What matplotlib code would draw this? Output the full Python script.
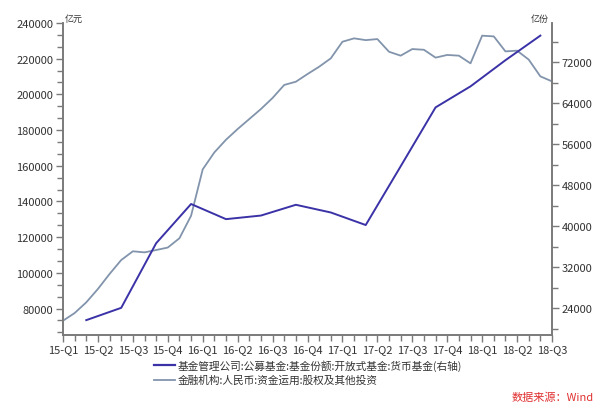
import matplotlib
matplotlib.use("Agg")
import matplotlib.pyplot as plt
from matplotlib.ticker import MultipleLocator, FixedLocator
import numpy as np

plt.rcParams['font.family'] = ['Noto Sans CJK SC', 'DejaVu Sans']

# Month index 0 = 2015-01
quarter_labels = ["15-Q1", "15-Q2", "15-Q3", "15-Q4", "16-Q1", "16-Q2", "16-Q3", "16-Q4",
                  "17-Q1", "17-Q2", "17-Q3", "17-Q4", "18-Q1", "18-Q2", "18-Q3"]

# 金融机构:人民币:资金运用:股权及其他投资 (monthly, left axis, 亿元)
equity_months = list(range(0, 43))
equity_values = [73200, 77500, 83500, 91000, 99400, 107200, 112100, 111500, 112800, 114200,
                 119400, 132000, 158000, 167500, 174600, 180600, 186200, 191800, 198000, 205300,
                 207100, 211400, 215500, 220200, 229500, 231400, 230400, 231000, 223900, 221700,
                 225400, 225000, 220600, 222100, 221700, 217400, 232900, 232500, 224100, 224500,
                 219500, 210100, 207300]

# 货币基金份额 (quarterly, right axis, 亿份)
mmf_months = [2, 5, 8, 11, 14, 17, 20, 23, 26, 29, 32, 35, 38, 41]
mmf_values = [21700, 24100, 36700, 44350, 41400, 42100, 44200, 42700, 40250, 51700,
              63200, 67300, 72400, 77200]

label_mmf = "基金管理公司:公募基金:基金份额:开放式基金:货币基金(右轴)"
label_eq = "金融机构:人民币:资金运用:股权及其他投资"

W, H = 611, 410
fig = plt.figure(figsize=(W / 100, H / 100), dpi=100)
left, right, top, bottom = 63, 552, 24, 336
ax = fig.add_axes([left / W, 1 - bottom / H, (right - left) / W, (bottom - top) / H])
ax2 = ax.twinx()

gray_c = '#8294ac'
blue_c = '#3a32a6'
spine_c = '#7a7a7a'
text_c = '#333333'

ax.plot(equity_months, equity_values, color=gray_c, lw=1.3, zorder=2)
ax2.plot(mmf_months, mmf_values, color=blue_c, lw=1.4, zorder=3)

ax.set_xlim(0, 42)
ax.set_ylim(65200, 240000)
ax2.set_ylim(18800, 79660)

for a in (ax, ax2):
    a.spines['top'].set_visible(False)
    for s in ('left', 'right', 'bottom'):
        a.spines[s].set_color(spine_c)
        a.spines[s].set_linewidth(1.2)
    a.patch.set_visible(False)

ax.xaxis.set_major_locator(FixedLocator(list(range(0, 43, 3))))
ax.set_xticklabels(quarter_labels)
ax.xaxis.set_minor_locator(MultipleLocator(1))

ax.yaxis.set_major_locator(FixedLocator(list(range(80000, 240001, 20000))))
ax.yaxis.set_minor_locator(FixedLocator(list(np.arange(80000 - 20000 / 3 * 2, 240001, 20000 / 3))))
ax2.yaxis.set_major_locator(FixedLocator(list(range(24000, 72001, 8000))))
ax2.yaxis.set_minor_locator(FixedLocator(list(range(20000, 80000, 4000))))

fs = 8
ax.tick_params(axis='both', which='major', length=5, width=1, color=spine_c,
               labelsize=fs, labelcolor=text_c, direction='out')
ax.tick_params(axis='both', which='minor', length=4, width=1, color=spine_c, direction='out')
ax2.tick_params(axis='y', which='major', length=5, width=1, color=spine_c,
                labelsize=fs, labelcolor=text_c, direction='out')
ax2.tick_params(axis='y', which='minor', length=4, width=1, color=spine_c, direction='out')
ax.tick_params(axis='x', pad=1.5)
ax.tick_params(axis='y', pad=2)
ax2.tick_params(axis='y', pad=2)

fig.text(65 / W, 1 - 19 / H, "亿元", fontsize=6.5, color=text_c, ha='left', va='center')
fig.text(549 / W, 1 - 19 / H, "亿份", fontsize=6.5, color=text_c, ha='right', va='center')

# Legend
lx0, lx1, tx = 154, 175, 178
for yy, col, lw, lab in [(366, blue_c, 1.6, label_mmf), (381, gray_c, 1.3, label_eq)]:
    fig.add_artist(plt.Line2D([lx0 / W, lx1 / W], [1 - yy / H, 1 - yy / H], color=col, lw=lw))
    fig.text(tx / W, 1 - yy / H, lab, fontsize=7.7, color=text_c, ha='left', va='center')

fig.text(594 / W, 1 - 398 / H, "数据来源：Wind", fontsize=8, color='#e03030',
         ha='right', va='center', style='italic')

fig.savefig("out.png", dpi=100, facecolor='white')
